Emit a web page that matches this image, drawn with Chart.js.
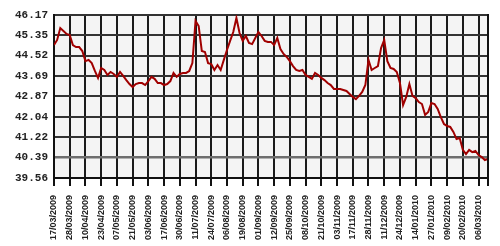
<!DOCTYPE html>
<html>
<head>
<meta charset="utf-8">
<script src="https://cdn.jsdelivr.net/npm/chart.js@4/dist/chart.umd.min.js"></script>
<style>
    body { margin: 0; background: #ffffff; }
    #wrap { width: 500px; height: 246px; position: relative; }
</style>
</head>
<body>
<div id="wrap"><canvas id="rateChart"></canvas></div>
<script>
// 日期刻度（每 5 個資料點一格）
const dateLabels = [
    '17/03/2009', '28/03/2009', '10/04/2009', '23/04/2009', '07/05/2009', '21/05/2009',
    '03/06/2009', '17/06/2009', '30/06/2009', '11/07/2009', '24/07/2009', '06/08/2009',
    '19/08/2009', '01/09/2009', '12/09/2009', '25/09/2009', '08/10/2009', '21/10/2009',
    '03/11/2009', '17/11/2009', '28/11/2009', '11/12/2009', '24/12/2009', '14/01/2010',
    '27/01/2010', '09/02/2010', '20/02/2010', '06/03/2010'
];
const pointsPerLabel = 5;

// Y 軸刻度
const yTicks = [39.56, 40.39, 41.22, 42.04, 42.87, 43.69, 44.52, 45.35, 46.17];

// 走勢數值
const rates = [
    44.95, 45.16, 45.64, 45.52, 45.40, 45.36, 44.95, 44.87, 44.87, 44.71,
    44.30, 44.35, 44.22, 43.90, 43.62, 44.02, 43.94, 43.74, 43.86, 43.78,
    43.66, 43.86, 43.70, 43.53, 43.37, 43.25, 43.37, 43.41, 43.41, 43.33,
    43.49, 43.66, 43.58, 43.41, 43.41, 43.33, 43.37, 43.49, 43.82, 43.66,
    43.78, 43.82, 43.82, 43.90, 44.22, 45.93, 45.72, 44.71, 44.67, 44.22,
    44.18, 43.94, 44.14, 43.94, 44.35, 44.75, 45.12, 45.48, 46.05, 45.44,
    45.12, 45.32, 45.04, 44.99, 45.24, 45.48, 45.32, 45.12, 45.08, 45.08,
    44.95, 45.24, 44.79, 44.59, 44.47, 44.30, 44.10, 43.94, 43.90, 43.94,
    43.74, 43.66, 43.58, 43.82, 43.74, 43.62, 43.53, 43.41, 43.33, 43.17,
    43.17, 43.17, 43.13, 43.09, 42.97, 42.85, 42.76, 42.89, 43.05, 43.33,
    44.35, 43.94, 44.02, 44.10, 44.83, 45.16, 44.30, 44.02, 43.98, 43.86,
    43.41, 42.52, 42.85, 43.37, 42.89, 42.80, 42.64, 42.56, 42.12, 42.24,
    42.60, 42.56, 42.36, 42.03, 41.75, 41.67, 41.63, 41.43, 41.14, 41.18,
    40.70, 40.53, 40.70, 40.61, 40.66, 40.49, 40.41, 40.29, 40.33
];

// 繪圖區底色與右側框線
const plotFrame = {
    id: 'plotFrame',
    beforeDraw(chart) {
        const { ctx, chartArea: a } = chart;
        ctx.save();
        ctx.fillStyle = '#f4f4f4';
        ctx.fillRect(a.left, a.top, a.right - a.left, a.bottom - a.top);
        ctx.restore();
    },
    afterDraw(chart) {
        const { ctx, chartArea: a } = chart;
        ctx.save();
        ctx.strokeStyle = '#111111';
        ctx.lineWidth = 2;
        ctx.beginPath();
        ctx.moveTo(a.right, a.top - 1);
        ctx.lineTo(a.right, a.bottom + 8);
        ctx.stroke();
        ctx.restore();
    }
};

const ctx = document.getElementById('rateChart').getContext('2d');
const rateChart = new Chart(ctx, {
    type: 'line',
    data: {
        datasets: [{
            data: rates.map((v, i) => ({ x: i, y: v })),
            borderColor: '#a00000',
            borderWidth: 2,
            pointRadius: 0,
            tension: 0,
            fill: false
        }]
    },
    options: {
        responsive: true,
        maintainAspectRatio: false,
        animation: false,
        layout: { padding: { top: 15, right: 12, left: 0, bottom: 0 } },
        plugins: { legend: { display: false }, tooltip: { enabled: false } },
        scales: {
            x: {
                type: 'linear',
                min: 0,
                max: rates.length - 1,
                afterBuildTicks: scale => {
                    scale.ticks = dateLabels.map((_, i) => ({ value: i * pointsPerLabel }));
                },
                afterFit: scale => { scale.height = 68; },
                border: { color: '#111111', width: 2 },
                grid: { color: '#1a1a1a', lineWidth: 2, tickLength: 8, tickColor: '#111111' },
                ticks: {
                    autoSkip: false,
                    minRotation: 90,
                    maxRotation: 90,
                    padding: 9,
                    color: '#222222',
                    font: { family: 'Liberation Sans', size: 9, weight: 'bold' },
                    callback: (value, index) => dateLabels[index]
                }
            },
            y: {
                min: yTicks[0],
                max: yTicks[yTicks.length - 1],
                afterBuildTicks: scale => {
                    scale.ticks = yTicks.map(v => ({ value: v }));
                },
                afterFit: scale => { scale.width = 54; },
                border: { color: '#111111', width: 2 },
                grid: {
                    color: c => (c.tick && c.tick.value === 40.39) ? '#6e6e6e' : '#333333',
                    lineWidth: c => (c.tick && c.tick.value === 40.39) ? 2.5 : 2,
                    drawTicks: false
                },
                ticks: {
                    padding: 6,
                    color: '#222222',
                    font: { family: 'Liberation Mono', size: 11, weight: 'bold' },
                    callback: value => value.toFixed(2)
                }
            }
        }
    },
    plugins: [plotFrame]
});
</script>
</body>
</html>
